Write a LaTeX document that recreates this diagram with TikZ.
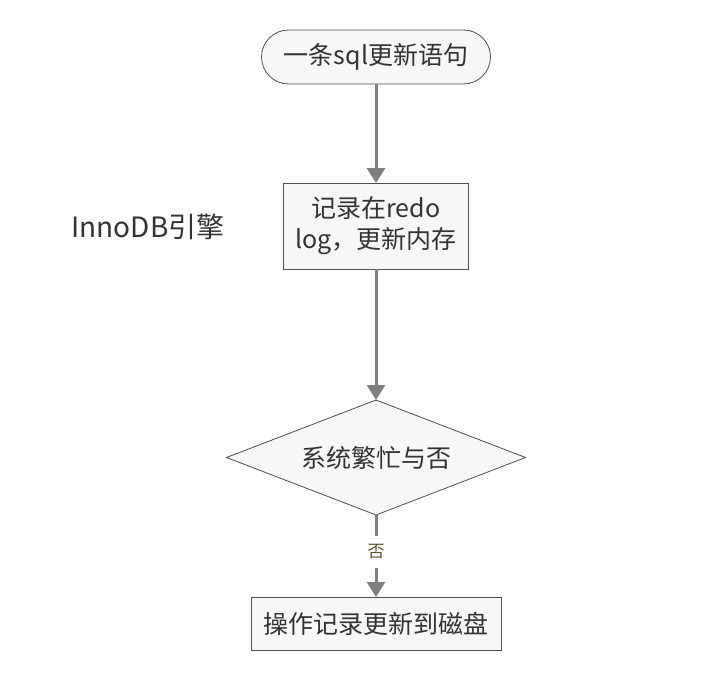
\documentclass[tikz,border=0pt]{standalone}
\usepackage{fontspec}
\setmainfont{Noto Sans CJK SC}
\definecolor{linegray}{RGB}{128,128,128}
\definecolor{edgegray}{RGB}{80,80,80}
\definecolor{boxfill}{RGB}{247,247,247}
\definecolor{textgray}{RGB}{51,51,51}
\definecolor{olive}{RGB}{90,85,50}
\usetikzlibrary{shapes.geometric, arrows.meta, positioning}

\begin{document}
\begin{tikzpicture}[
    base/.style={draw=edgegray, fill=boxfill, line width=0.8pt, outer sep=0pt,
                 text=textgray, font=\fontsize{25}{31}\selectfont, align=center},
    startbox/.style={base, rectangle, rounded corners=27pt,
                     minimum width=229pt, minimum height=54pt},
    procbox/.style={base, rectangle, minimum width=185pt, minimum height=86pt},
    decision/.style={base, diamond, aspect=2.6, inner sep=0pt,
                     minimum width=299pt, minimum height=115pt},
    arr/.style={-{Triangle[width=18pt,length=15pt]}, line width=3pt, linegray}
  ]
  \path[use as bounding box] (0pt,0pt) rectangle (720pt,-690pt);

  \node[startbox] (sql) at (376pt,-57pt) {一条sql更新语句};
  \node[procbox, below=99pt of sql] (redo) {记录在redo\\log，更新内存};
  \node[decision, below=131pt of redo] (busy) {系统繁忙与否};
  \node[base, rectangle, minimum width=250pt, minimum height=53pt,
        below=82pt of busy] (disk) {操作记录更新到磁盘};

  \node[text=textgray, font=\fontsize{28}{32}\selectfont] (engine) at (148pt,-227pt) {InnoDB引擎};

  \draw[arr] (sql) -- (redo);
  \draw[arr] (redo) -- (busy);
  \draw[arr] (busy) -- node[pos=0.45, fill=white, text=olive, font=\fontsize{17}{19}\selectfont,
                            inner xsep=5pt, inner ysep=9pt] (no) {否} (disk);
\end{tikzpicture}
\end{document}
